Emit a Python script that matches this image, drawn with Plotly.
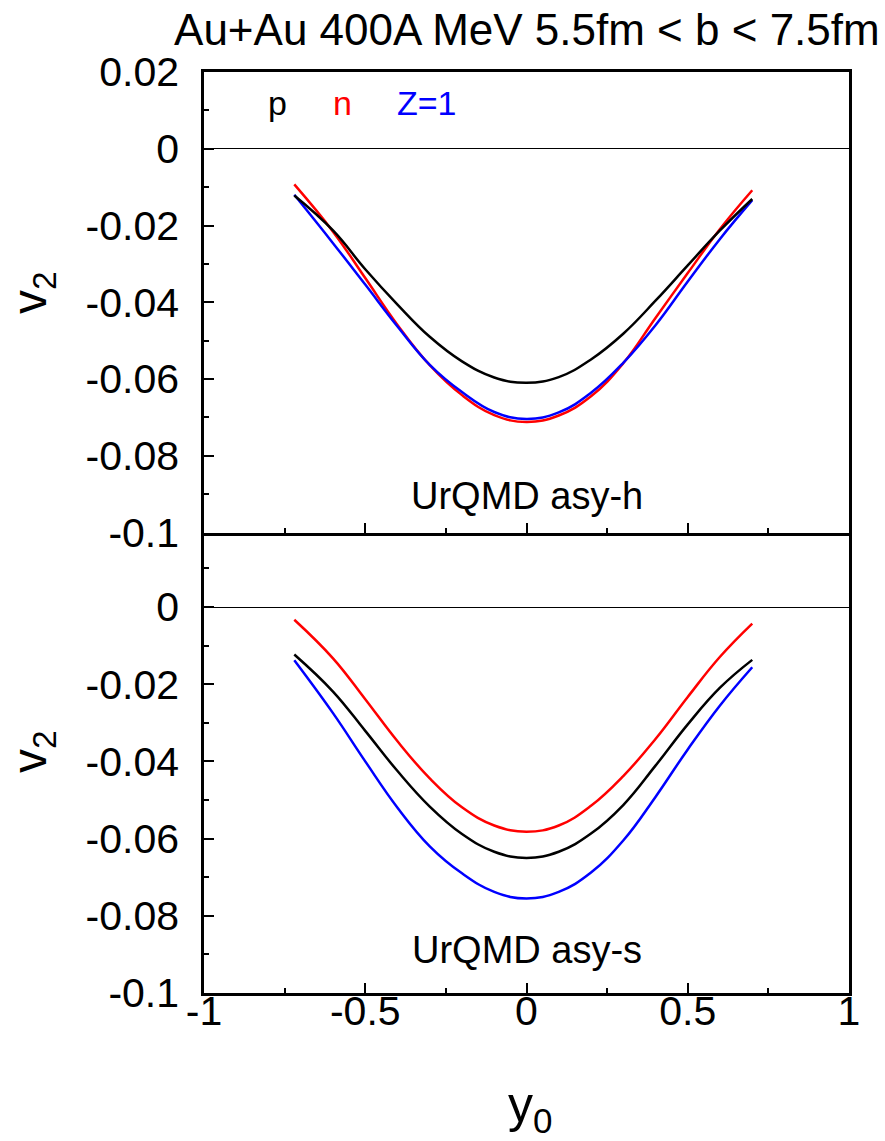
import plotly.graph_objects as go

# rapidity grid
y0 = [-0.72, -0.6, -0.5, -0.4, -0.3, -0.2, -0.1, 0.0, 0.1, 0.2, 0.3, 0.4, 0.5, 0.6, 0.70]

# upper panel: UrQMD asy-h
p_h = [-0.0122, -0.0213, -0.0314, -0.0406, -0.0490, -0.0554, -0.0596, -0.0610,
       -0.0595, -0.0549, -0.0482, -0.0396, -0.0304, -0.0213, -0.0131]
n_h = [-0.0093, -0.0216, -0.0337, -0.0459, -0.0564, -0.0642, -0.0694, -0.0712,
       -0.0695, -0.0645, -0.0559, -0.0441, -0.0324, -0.0209, -0.0108]
z1_h = [-0.0120, -0.0246, -0.0354, -0.0463, -0.0563, -0.0634, -0.0686, -0.0704,
        -0.0687, -0.0636, -0.0558, -0.0460, -0.0346, -0.0235, -0.0134]

# lower panel: UrQMD asy-s
p_s = [-0.0123, -0.0219, -0.0321, -0.0425, -0.0517, -0.0588, -0.0634, -0.0650,
       -0.0634, -0.0587, -0.0513, -0.0411, -0.0304, -0.0209, -0.0137]
n_s = [-0.0033, -0.0133, -0.0239, -0.0348, -0.0444, -0.0519, -0.0566, -0.0582,
       -0.0566, -0.0515, -0.0438, -0.0342, -0.0233, -0.0129, -0.0043]
z1_s = [-0.0138, -0.0275, -0.0400, -0.0520, -0.0620, -0.0690, -0.0738, -0.0755,
        -0.0738, -0.0688, -0.0605, -0.0492, -0.0369, -0.0255, -0.0156]

# tick labels (plain hyphen minus, as in the original)
x_ticks = [-1, -0.5, 0, 0.5, 1]
x_ticklabels = ["-1", "-0.5", "0", "0.5", "1"]
y_ticks = [0.02, 0, -0.02, -0.04, -0.06, -0.08, -0.1]
y_ticklabels = ["0.02", "0", "-0.02", "-0.04", "-0.06", "-0.08", "-0.1"]

FONT = "Liberation Sans, Arial, Helvetica, sans-serif"
BLACK, RED, BLUE = "#000000", "#ff0000", "#0000ff"

fig = go.Figure()
for ys, col in [(n_h, RED), (z1_h, BLUE), (p_h, BLACK)]:
    fig.add_trace(go.Scatter(x=y0, y=ys, mode="lines",
                             line=dict(color=col, width=2.5, shape="spline", smoothing=1.2),
                             xaxis="x", yaxis="y", showlegend=False))
for ys, col in [(n_s, RED), (z1_s, BLUE), (p_s, BLACK)]:
    fig.add_trace(go.Scatter(x=y0, y=ys, mode="lines",
                             line=dict(color=col, width=2.5, shape="spline", smoothing=1.2),
                             xaxis="x2", yaxis="y2", showlegend=False))

xcommon = dict(range=[-1, 1], tickmode="array", tickvals=x_ticks, ticktext=x_ticklabels,
               ticks="inside", ticklen=10, tickwidth=1.5,
               tickcolor="black", showline=True, linecolor="black", linewidth=2.5,
               showgrid=False, zeroline=False,
               minor=dict(dtick=0.25, tick0=0, ticks="inside", ticklen=5, tickwidth=1.5,
                          tickcolor="black", showgrid=False),
               tickfont=dict(family=FONT, size=41, color="black"))
ycommon = dict(tickmode="array", tickvals=y_ticks, ticktext=y_ticklabels,
               ticks="inside", ticklen=10, tickwidth=1.5, tickcolor="black",
               showline=True, linecolor="black", linewidth=2.5, mirror=True, showgrid=False,
               zeroline=True, zerolinecolor="black", zerolinewidth=1,
               minor=dict(dtick=0.01, tick0=0, ticks="inside", ticklen=5, tickwidth=1.5,
                          tickcolor="black", showgrid=False),
               tickfont=dict(family=FONT, size=41, color="black"), ticklabelstandoff=14)

fig.update_layout(
    width=885, height=1141,
    margin=dict(l=204, r=36, t=72, b=148),
    plot_bgcolor="white", paper_bgcolor="white",
    xaxis=dict(xcommon, anchor="y", showticklabels=False, mirror=True),
    yaxis=dict(ycommon, domain=[0.5, 1.0], range=[-0.1, 0.02], anchor="x"),
    xaxis2=dict(xcommon, anchor="y2", showticklabels=True, mirror=False, ticklabelstandoff=-20),
    yaxis2=dict(ycommon, domain=[0.0, 0.5], range=[-0.1, 0.0193], anchor="x2"),
    title=dict(text="Au+Au 400A MeV 5.5fm < b < 7.5fm", x=0.994, xanchor="right", xref="container",
               y=1 - 30 / 1141, yanchor="middle", yref="container",
               font=dict(family=FONT, size=44, color="black")),
)

ann = []
ann.append(dict(text="p", x=-0.771, y=0.0118, xref="x", yref="y", showarrow=False,
                xanchor="center", yanchor="middle", font=dict(family=FONT, size=34, color=BLACK)))
ann.append(dict(text="n", x=-0.572, y=0.0118, xref="x", yref="y", showarrow=False,
                xanchor="center", yanchor="middle", font=dict(family=FONT, size=34, color=RED)))
ann.append(dict(text="Z=1", x=-0.307, y=0.0118, xref="x", yref="y", showarrow=False,
                xanchor="center", yanchor="middle", font=dict(family=FONT, size=34, color=BLUE)))
ann.append(dict(text="UrQMD asy-h", x=0, y=-0.0905, xref="x", yref="y", showarrow=False,
                xanchor="center", yanchor="middle", font=dict(family=FONT, size=38, color="black")))
ann.append(dict(text="UrQMD asy-s", x=0, y=-0.0889, xref="x2", yref="y2", showarrow=False,
                xanchor="center", yanchor="middle", font=dict(family=FONT, size=38, color="black")))
ann.append(dict(text="v<sub>2</sub>", x=(33 - 204) / 645, y=(993 - 293) / 921, xref="paper", yref="paper",
                xanchor="center", yanchor="middle",
                textangle=-90, showarrow=False, font=dict(family=FONT, size=48, color="black")))
ann.append(dict(text="v<sub>2</sub>", x=(33 - 204) / 645, y=(993 - 752) / 921, xref="paper", yref="paper",
                xanchor="center", yanchor="middle",
                textangle=-90, showarrow=False, font=dict(family=FONT, size=48, color="black")))
ann.append(dict(text="y<sub>0</sub>", x=(530 - 204) / 645, y=(993 - 1108) / 921, xref="paper", yref="paper",
                xanchor="center", yanchor="middle",
                showarrow=False, font=dict(family=FONT, size=50, color="black")))
fig.update_layout(annotations=ann)

fig.write_html("out.html")
